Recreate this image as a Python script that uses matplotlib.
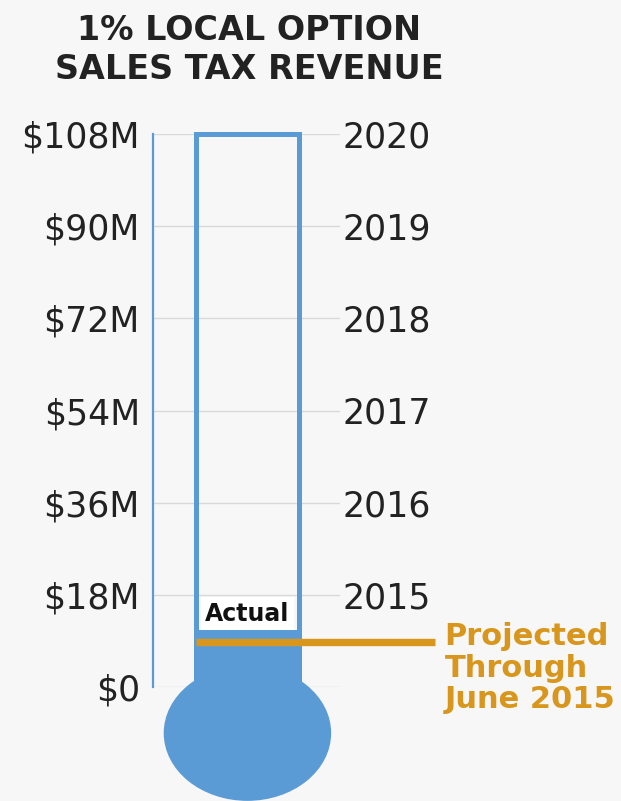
"""Thermometer chart: 1% local option sales tax revenue."""

import matplotlib
matplotlib.use('Agg')
import matplotlib.pyplot as plt
from matplotlib.patches import Rectangle, Ellipse

# data
levels = [0, 18, 36, 54, 72, 90, 108]
dollar_labels = ['$0', '$18M', '$36M', '$54M', '$72M', '$90M', '$108M']
year_levels = [18, 36, 54, 72, 90, 108]
year_labels = ['2015', '2016', '2017', '2018', '2019', '2020']
goal = 108
actual_revenue = 11.1
projected_revenue = 8.8

BG = '#f7f7f7'
BLUE = '#5b9bd5'
ORANGE = '#d9961c'
GRID = '#d9d9d9'

plt.rcParams['font.family'] = 'DejaVu Sans'

W, H = 621, 801
fig = plt.figure(figsize=(W / 100, H / 100), dpi=100, facecolor=BG)
ax = fig.add_axes([153 / W, (H - 687) / H, 187 / W, 553 / H])
ax.set_facecolor('none')
ax.set_xlim(0, 1)
ax.set_ylim(0, goal)

# left axis
ax.set_yticks(levels)
ax.set_yticklabels(dollar_labels)
ax.tick_params(axis='y', length=0, pad=9.5, labelsize=25, labelcolor='#222222')
ax.set_xticks([])
ax.yaxis.grid(True, color=GRID, lw=1)
ax.set_axisbelow(True)
for s in ['top', 'right', 'bottom']:
    ax.spines[s].set_visible(False)
ax.spines['left'].set_color(BLUE)
ax.spines['left'].set_linewidth(1.6)

# right axis with years
ax2 = ax.twinx()
ax2.set_ylim(0, goal)
ax2.set_yticks(year_levels)
ax2.set_yticklabels(year_labels)
ax2.tick_params(axis='y', length=0, pad=2, labelsize=25, labelcolor='#222222')
for s in ax2.spines.values():
    s.set_visible(False)

# thermometer
tube_l, tube_r = 0.23, 0.78
tube_c = (tube_l + tube_r) / 2
bulb_y = -9
ax.add_patch(Ellipse((tube_c, bulb_y), 0.888, 26.2, color=BLUE, zorder=3, clip_on=False))
ax.add_patch(Rectangle((tube_l, bulb_y), tube_r - tube_l, actual_revenue - bulb_y,
                       color=BLUE, zorder=3, clip_on=False, lw=0))
ax.plot([tube_l, tube_l, tube_r, tube_r], [0, goal, goal, 0], color=BLUE, lw=3.6,
        zorder=4, clip_on=False, solid_joinstyle='miter')

ax.text(tube_c, actual_revenue + 0.9, 'Actual', ha='center', va='bottom',
        fontsize=17, fontweight='bold', color='#111111', zorder=5,
        bbox=dict(boxstyle='square,pad=0.18', fc='white', ec='none'))

# projected marker
ax.plot([tube_l, 1.51], [projected_revenue, projected_revenue], color=ORANGE, lw=5.3,
        zorder=5, clip_on=False, solid_capstyle='butt')
ax.text(1.56, 12.6, 'Projected\nThrough\nJune 2015', ha='left', va='top',
        fontsize=22, fontweight='bold', color=ORANGE, linespacing=1.1, clip_on=False)

fig.text(249 / W, 1 - 14 / H, '1% LOCAL OPTION\nSALES TAX REVENUE', ha='center', va='top',
         fontsize=24, fontweight='bold', color='#222222', linespacing=1.22)

fig.savefig('out.png', dpi=100, facecolor=BG)
